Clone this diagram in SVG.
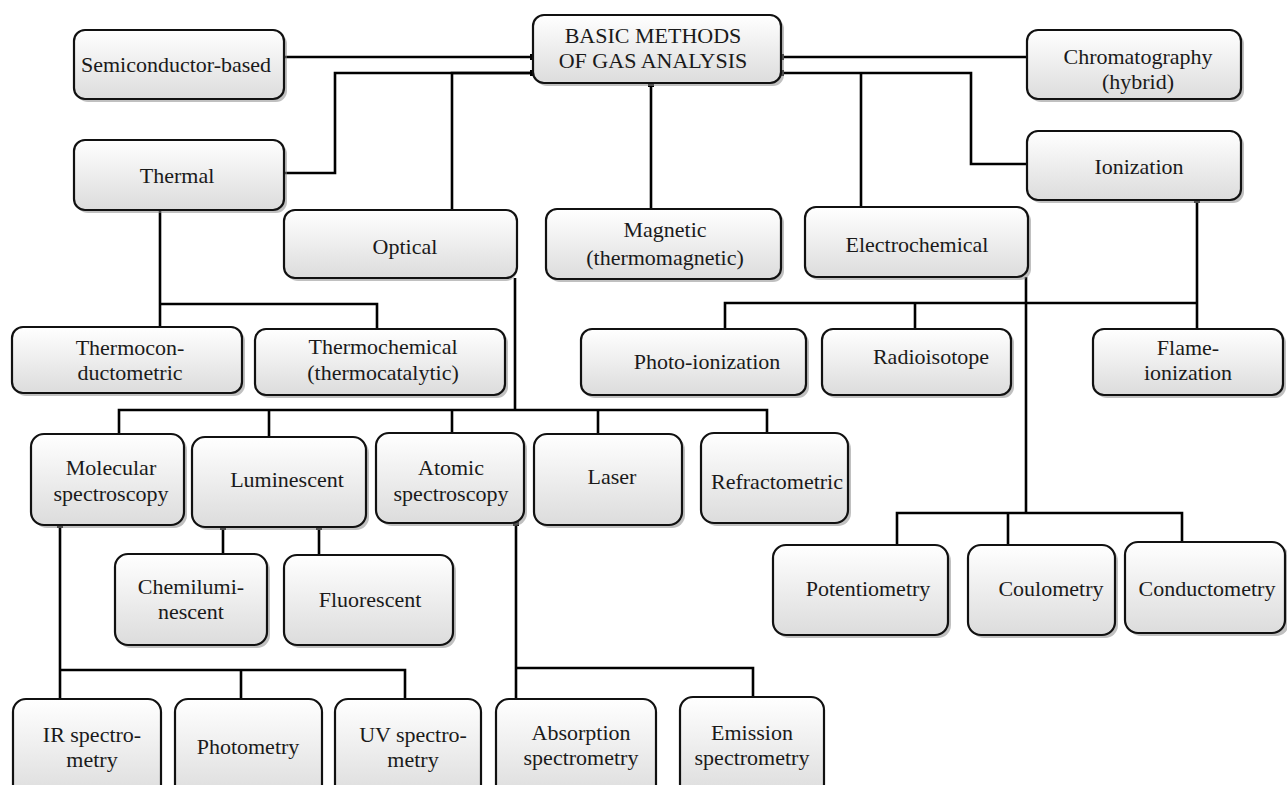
<svg xmlns="http://www.w3.org/2000/svg" width="1287" height="785" viewBox="0 0 1287 785">
<defs>
<linearGradient id="g" x1="0" y1="0" x2="0" y2="1">
<stop offset="0" stop-color="#ffffff"/>
<stop offset="1" stop-color="#dcdcdc"/>
</linearGradient>
<marker id="sq" viewBox="0 0 6 6" refX="3" refY="3" markerWidth="6" markerHeight="6" markerUnits="userSpaceOnUse">
<rect x="0" y="0" width="6" height="6" fill="#000"/>
</marker>
<style>
.box{fill:url(#g);stroke:#111;stroke-width:2.2}
.sh{fill:#8c8c8c;opacity:0.55}
text{font-family:"Liberation Serif","Times New Roman",serif;font-size:22px;fill:#1a1a1a;text-anchor:middle}
.c{fill:none;stroke:#000;stroke-width:2.6}
.m{marker-end:url(#sq)}
</style>
</defs>
<rect width="1287" height="785" fill="#fff"/>

<g id="connectors">
<path class="c m" d="M284,57 H533"/>
<path class="c m" d="M284,173 H335 V73 H533"/>
<path class="c m" d="M452,210 V73 H533"/>
<path class="c m" d="M651,209 V84"/>
<path class="c m" d="M1027,57 H781"/>
<path class="c m" d="M1027,164 H971 V73 H781"/>
<path class="c" d="M861,207 V73"/>
<path class="c" d="M160,210 V327"/>
<path class="c" d="M160,304 H377 V329"/>
<path class="c m" d="M1197,329 V200"/>
<path class="c" d="M725,329 V303 H1197"/>
<path class="c" d="M915,303 V329"/>
<path class="c" d="M1026,277 V513"/>
<path class="c" d="M897,545 V513 H1182 V542"/>
<path class="c" d="M1008,513 V545"/>
<path class="c" d="M515,278 V410"/>
<path class="c" d="M119,434 V410 H767 V433"/>
<path class="c" d="M269,410 V437"/>
<path class="c" d="M452,410 V433"/>
<path class="c" d="M598,410 V434"/>
<path class="c m" d="M223,554 V527"/>
<path class="c m" d="M319,555 V527"/>
<path class="c m" d="M60,699 V525"/>
<path class="c" d="M60,670 H405 V699"/>
<path class="c" d="M241,670 V699"/>
<path class="c m" d="M516,699 V523"/>
<path class="c" d="M516,668 H753 V697"/>
</g>

<g id="basic"><rect class="sh" x="536" y="18" width="248" height="68" rx="11"/><rect class="box" x="533" y="15" width="248" height="68" rx="11"/><text x="653" y="43">BASIC METHODS</text><text x="653" y="68">OF GAS ANALYSIS</text></g>
<g id="semiconductor"><rect class="sh" x="77" y="33" width="210" height="69" rx="11"/><rect class="box" x="74" y="30" width="210" height="69" rx="11"/><text x="176" y="72">Semiconductor-based</text></g>
<g id="chromatography"><rect class="sh" x="1030" y="33" width="214" height="69" rx="11"/><rect class="box" x="1027" y="30" width="214" height="69" rx="11"/><text x="1138" y="64">Chromatography</text><text x="1138" y="89">(hybrid)</text></g>
<g id="ionization"><rect class="sh" x="1030" y="134" width="214" height="69" rx="11"/><rect class="box" x="1027" y="131" width="214" height="69" rx="11"/><text x="1139" y="174">Ionization</text></g>
<g id="thermal"><rect class="sh" x="77" y="143" width="210" height="70" rx="11"/><rect class="box" x="74" y="140" width="210" height="70" rx="11"/><text x="177" y="183">Thermal</text></g>
<g id="optical"><rect class="sh" x="287" y="213" width="230" height="68" rx="11"/><rect class="box" x="284" y="210" width="233" height="68" rx="11"/><text x="405" y="254">Optical</text></g>
<g id="magnetic"><rect class="sh" x="549" y="212" width="235" height="70" rx="11"/><rect class="box" x="546" y="209" width="235" height="70" rx="11"/><text x="665" y="237">Magnetic</text><text x="665" y="265">(thermomagnetic)</text></g>
<g id="electrochemical"><rect class="sh" x="808" y="210" width="223" height="70" rx="11"/><rect class="box" x="805" y="207" width="223" height="70" rx="11"/><text x="917" y="252">Electrochemical</text></g>
<g id="thermoconductometric"><rect class="sh" x="15" y="330" width="230" height="66" rx="11"/><rect class="box" x="12" y="327" width="230" height="66" rx="11"/><text x="130" y="355">Thermocon-</text><text x="130" y="380">ductometric</text></g>
<g id="thermochemical"><rect class="sh" x="258" y="332" width="250" height="66" rx="11"/><rect class="box" x="255" y="329" width="250" height="66" rx="11"/><text x="383" y="354">Thermochemical</text><text x="383" y="380">(thermocatalytic)</text></g>
<g id="photoionization"><rect class="sh" x="584" y="332" width="225" height="66" rx="11"/><rect class="box" x="581" y="329" width="225" height="66" rx="11"/><text x="707" y="369">Photo-ionization</text></g>
<g id="radioisotope"><rect class="sh" x="825" y="332" width="189" height="66" rx="11"/><rect class="box" x="822" y="329" width="189" height="66" rx="11"/><text x="931" y="364">Radioisotope</text></g>
<g id="flame"><rect class="sh" x="1096" y="332" width="190" height="66" rx="11"/><rect class="box" x="1093" y="329" width="190" height="66" rx="11"/><text x="1188" y="355">Flame-</text><text x="1188" y="380">ionization</text></g>
<g id="molecular"><rect class="sh" x="34" y="437" width="153" height="91" rx="13"/><rect class="box" x="31" y="434" width="153" height="91" rx="13"/><text x="111" y="475">Molecular</text><text x="111" y="501">spectroscopy</text></g>
<g id="luminescent"><rect class="sh" x="195" y="440" width="174" height="90" rx="13"/><rect class="box" x="192" y="437" width="174" height="90" rx="13"/><text x="287" y="487">Luminescent</text></g>
<g id="atomic"><rect class="sh" x="379" y="436" width="148" height="90" rx="13"/><rect class="box" x="376" y="433" width="148" height="90" rx="13"/><text x="451" y="475">Atomic</text><text x="451" y="501">spectroscopy</text></g>
<g id="laser"><rect class="sh" x="537" y="437" width="148" height="91" rx="13"/><rect class="box" x="534" y="434" width="148" height="91" rx="13"/><text x="612" y="484">Laser</text></g>
<g id="refractometric"><rect class="sh" x="704" y="436" width="147" height="90" rx="13"/><rect class="box" x="701" y="433" width="147" height="90" rx="13"/><text x="777" y="489">Refractometric</text></g>
<g id="chemiluminescent"><rect class="sh" x="118" y="557" width="152" height="91" rx="13"/><rect class="box" x="115" y="554" width="152" height="91" rx="13"/><text x="191" y="594">Chemilumi-</text><text x="191" y="619">nescent</text></g>
<g id="fluorescent"><rect class="sh" x="287" y="558" width="169" height="90" rx="13"/><rect class="box" x="284" y="555" width="169" height="90" rx="13"/><text x="370" y="607">Fluorescent</text></g>
<g id="potentiometry"><rect class="sh" x="776" y="548" width="175" height="90" rx="13"/><rect class="box" x="773" y="545" width="175" height="90" rx="13"/><text x="868" y="596">Potentiometry</text></g>
<g id="coulometry"><rect class="sh" x="971" y="548" width="147" height="90" rx="13"/><rect class="box" x="968" y="545" width="147" height="90" rx="13"/><text x="1051" y="596">Coulometry</text></g>
<g id="conductometry"><rect class="sh" x="1128" y="545" width="161" height="91" rx="13"/><rect class="box" x="1125" y="542" width="160" height="91" rx="13"/><text x="1207" y="596">Conductometry</text></g>
<g id="ir"><rect class="box" x="13" y="699" width="148" height="100" rx="13"/><text x="92" y="742">IR spectro-</text><text x="92" y="767">metry</text></g>
<g id="photometry"><rect class="box" x="175" y="699" width="147" height="100" rx="13"/><text x="248" y="754">Photometry</text></g>
<g id="uv"><rect class="box" x="335" y="699" width="146" height="100" rx="13"/><text x="413" y="742">UV spectro-</text><text x="413" y="767">metry</text></g>
<g id="absorption"><rect class="box" x="496" y="699" width="160" height="100" rx="13"/><text x="581" y="740">Absorption</text><text x="581" y="765">spectrometry</text></g>
<g id="emission"><rect class="box" x="680" y="697" width="144" height="100" rx="13"/><text x="752" y="740">Emission</text><text x="752" y="765">spectrometry</text></g>
</svg>
